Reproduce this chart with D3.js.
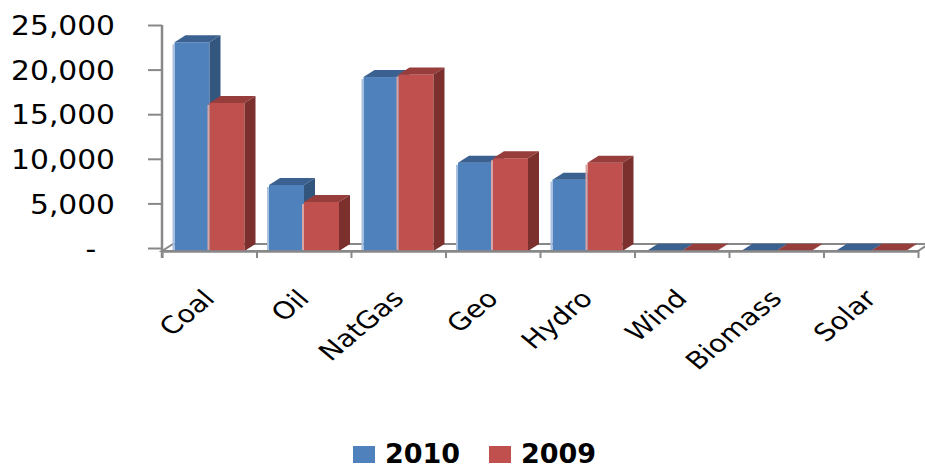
<!DOCTYPE html>
<html>
<head>
<meta charset="utf-8">
<script src="https://cdn.jsdelivr.net/npm/d3@7"></script>
<style>
  body { margin: 0; background: #fff; }
  text { font-family: "DejaVu Sans", Verdana, sans-serif; }
</style>
</head>
<body>
<div id="chart"></div>
<script>
const width = 925, height = 466;

// data
const categories = ['Coal', 'Oil', 'NatGas', 'Geo', 'Hydro', 'Wind', 'Biomass', 'Solar'];
const series = ['2010', '2009'];
const values2010 = [23400, 7400, 19500, 9900, 8000, 30, 30, 30];
const values2009 = [16600, 5500, 19800, 10400, 9900, 30, 30, 30];
const yTicks = [0, 5000, 10000, 15000, 20000, 25000];

const rows = categories.map((c, i) => ({cat: c, '2010': values2010[i], '2009': values2009[i]}));

const shades = {
  '2010': {front: '#4f81bd', top: '#3b6191', side: '#33567f'},
  '2009': {front: '#c0504d', top: '#973e3c', side: '#7b302e'}
};

const margin = {left: 162, right: 7, top: 25};
const depth = {dx: 11, dy: 7};
const frontShift = 3; // front plane sits a little below the axis zero
const stretch = 1.2;  // the original text is drawn a bit wide

const svg = d3.select('#chart').append('svg')
  .attr('width', width).attr('height', height);

const y = d3.scaleLinear().domain([0, 25000]).range([248, 25]);
const x = d3.scaleBand().domain(categories).range([margin.left, width - margin.right]);
const xs = d3.scaleBand().domain(series).range([12.5, 82.5]);
const baseFront = y(0) + frontShift;

// floor slab
svg.append('polygon')
  .attr('points', [
    [margin.left, baseFront],
    [margin.left + depth.dx, baseFront - depth.dy],
    [width - margin.right + depth.dx, baseFront - depth.dy],
    [width - margin.right, baseFront]
  ].map(p => p.join(',')).join(' '))
  .attr('fill', '#fff')
  .attr('stroke', '#888')
  .attr('stroke-width', 2);

// 3d columns
const groups = svg.append('g').selectAll('g.cat')
  .data(rows)
  .join('g')
  .attr('class', 'cat')
  .attr('transform', d => `translate(${x(d.cat)},0)`);

const bars = groups.selectAll('g.bar')
  .data(d => series.map(s => ({key: s, value: d[s]})))
  .join('g')
  .attr('class', 'bar');

const bw = xs.bandwidth();
const pts = arr => arr.map(p => p.join(',')).join(' ');

bars.append('rect')
  .attr('x', d => xs(d.key))
  .attr('y', d => y(d.value) + frontShift)
  .attr('width', bw)
  .attr('height', d => baseFront - (y(d.value) + frontShift))
  .attr('fill', d => shades[d.key].front);

bars.append('polygon')
  .attr('points', d => {
    const x0 = xs(d.key), yt = y(d.value) + frontShift;
    return pts([[x0, yt], [x0 + depth.dx, yt - depth.dy], [x0 + bw + depth.dx, yt - depth.dy], [x0 + bw, yt]]);
  })
  .attr('fill', d => shades[d.key].top);

bars.append('polygon')
  .attr('points', d => {
    const x0 = xs(d.key) + bw, yt = y(d.value) + frontShift;
    return pts([[x0, yt], [x0 + depth.dx, yt - depth.dy], [x0 + depth.dx, baseFront - depth.dy], [x0, baseFront]]);
  })
  .attr('fill', d => shades[d.key].side);

// light edge on the left of each column
bars.append('line')
  .attr('x1', d => xs(d.key) - 1).attr('x2', d => xs(d.key) - 1)
  .attr('y1', d => y(d.value) + frontShift + 2)
  .attr('y2', baseFront - 1)
  .attr('stroke', d => d.key === '2010' ? '#a9c0de' : '#d9a5a4')
  .attr('stroke-width', d => d.value > 100 ? 2 : 0);

// y axis
const yAxis = svg.append('g')
  .attr('transform', `translate(${margin.left},0)`)
  .call(d3.axisLeft(y).tickValues(yTicks).tickSize(14).tickSizeOuter(0)
    .tickFormat(v => v === 0 ? '-\u00a0\u00a0' : d3.format(',')(v)));
yAxis.select('.domain').remove();
yAxis.selectAll('.tick line').attr('stroke', '#888').attr('stroke-width', 2);
yAxis.selectAll('.tick text')
  .attr('x', -47 / 1.1)
  .attr('dy', '0.36em')
  .attr('transform', 'scale(1.1,1)')
  .attr('fill', '#000')
  .style('font-size', '27px')
  .style('font-family', '"DejaVu Sans", Verdana, sans-serif');
svg.append('line')
  .attr('x1', margin.left).attr('x2', margin.left)
  .attr('y1', y(25000)).attr('y2', baseFront + 7)
  .attr('stroke', '#888').attr('stroke-width', 2.5);

// x axis (front edge of the floor with category ticks)
const xl = d3.scaleLinear().domain([0, categories.length]).range([margin.left, width - margin.right]);
const xAxis = svg.append('g')
  .attr('transform', `translate(0,${baseFront})`)
  .call(d3.axisBottom(xl).tickValues(d3.range(categories.length + 1)).tickSize(7).tickSizeOuter(0).tickFormat(''));
xAxis.select('.domain').attr('stroke', '#888').attr('stroke-width', 2.5);
xAxis.selectAll('.tick line').attr('stroke', '#888').attr('stroke-width', 2);

// category labels
svg.append('g').selectAll('text')
  .data(categories)
  .join('text')
  .attr('transform', c => `translate(${x(c) + x.bandwidth() / 2 + 7},300) scale(${stretch},1) rotate(-45)`)
  .attr('text-anchor', 'end')
  .style('font-size', '24px')
  .text(c => c);

// legend
const legend = svg.append('g').selectAll('g')
  .data(series)
  .join('g')
  .attr('transform', (s, i) => `translate(${353 + i * 136},446)`);
legend.append('rect')
  .attr('width', 22).attr('height', 17)
  .attr('fill', s => shades[s].front);
legend.append('text')
  .attr('x', 32).attr('y', 17)
  .style('font-size', '27px')
  .style('font-weight', 'bold')
  .text(s => s);
</script>
</body>
</html>
